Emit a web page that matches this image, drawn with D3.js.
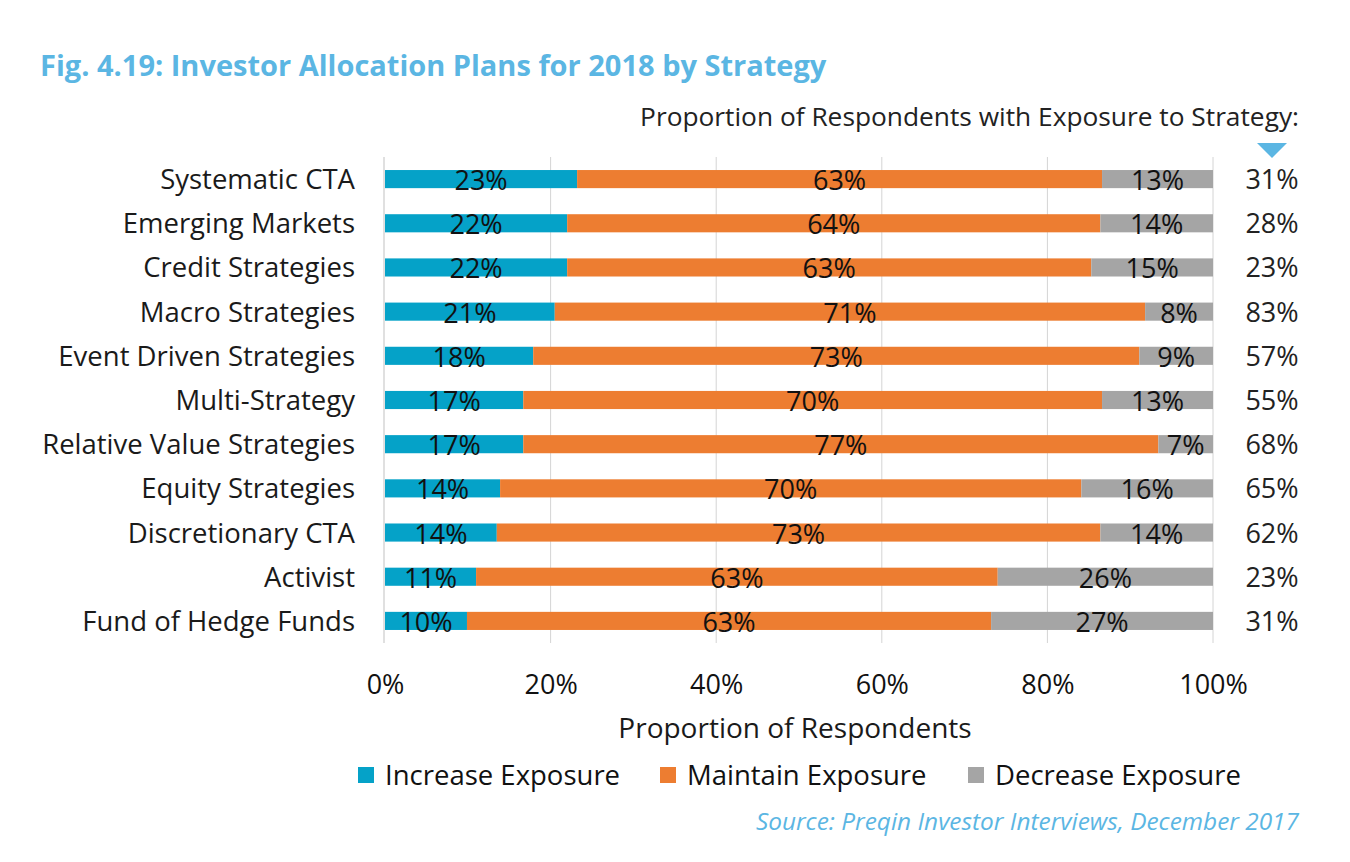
<!DOCTYPE html>
<html>
<head>
<meta charset="utf-8">
<script src="https://cdn.jsdelivr.net/npm/d3@7"></script>
<style>
  body { margin: 0; background: #fff; }
  svg text { font-family: "Open Sans", sans-serif; }
</style>
</head>
<body>
<svg id="chart" width="1350" height="862"></svg>
<script>
// datos
const categorias = ["Systematic CTA", "Emerging Markets", "Credit Strategies", "Macro Strategies",
  "Event Driven Strategies", "Multi-Strategy", "Relative Value Strategies", "Equity Strategies",
  "Discretionary CTA", "Activist", "Fund of Hedge Funds"];
const aumentar = [23.2, 22.0, 22.0, 20.5, 17.9, 16.7, 16.7, 13.9, 13.5, 11.0, 9.9];
const mantener = [63.4, 64.4, 63.3, 71.3, 73.2, 69.9, 76.7, 70.2, 72.9, 63.0, 63.3];
const reducir = [13.4, 13.6, 14.7, 8.2, 8.9, 13.4, 6.6, 15.9, 13.6, 26.0, 26.8];
const etiquetasAumentar = ["23%", "22%", "22%", "21%", "18%", "17%", "17%", "14%", "14%", "11%", "10%"];
const etiquetasMantener = ["63%", "64%", "63%", "71%", "73%", "70%", "77%", "70%", "73%", "63%", "63%"];
const etiquetasReducir = ["13%", "14%", "15%", "8%", "9%", "13%", "7%", "16%", "14%", "26%", "27%"];
const exposicion = ["31%", "28%", "23%", "83%", "57%", "55%", "68%", "65%", "62%", "23%", "31%"];
const series = ["Increase Exposure", "Maintain Exposure", "Decrease Exposure"];
const colores = ["#05A2C8", "#ED7D31", "#A5A5A5"];
const ticksX = [0, 20, 40, 60, 80, 100];

const azul = "#5BB6E3";
const tam = 27;
const svg = d3.select("#chart");

const x = d3.scaleLinear().domain([0, 100]).range([385, 1213]);
const y = d3.scaleBand().domain(categorias).range([157, 643]).paddingInner(0.59).paddingOuter(0.295);

// titulo
svg.append("text")
  .attr("x", 40).attr("y", 76)
  .attr("fill", azul).attr("font-size", 29).attr("font-weight", "bold")
  .text("Fig. 4.19: Investor Allocation Plans for 2018 by Strategy");

svg.append("text")
  .attr("x", 1299).attr("y", 126)
  .attr("text-anchor", "end").attr("font-size", 26.3).attr("fill", "#222")
  .text("Proportion of Respondents with Exposure to Strategy:");

// triangulo
svg.append("path")
  .attr("d", "M1257,143 L1287,143 L1272,158 Z")
  .attr("fill", azul);

// rejilla
svg.append("g").selectAll("line")
  .data(ticksX.slice(1))
  .join("line")
  .attr("x1", d => x(d)).attr("x2", d => x(d))
  .attr("y1", 157).attr("y2", 643)
  .attr("stroke", "#d4d4d4").attr("stroke-width", 1);

svg.append("line")
  .attr("x1", x(0) - 1).attr("x2", x(0) - 1)
  .attr("y1", 157).attr("y2", 643)
  .attr("stroke", "#e0e0e0").attr("stroke-width", 2);

// barras apiladas
const filas = categorias.map((c, i) => ({
  cat: c,
  vals: [aumentar[i], mantener[i], reducir[i]],
  etiq: [etiquetasAumentar[i], etiquetasMantener[i], etiquetasReducir[i]]
}));

const g = svg.append("g");
filas.forEach(f => {
  let acum = 0;
  f.vals.forEach((v, k) => {
    const x0 = acum, x1 = acum + v;
    acum = x1;
    g.append("rect")
      .attr("x", x(x0)).attr("width", x(x1) - x(x0))
      .attr("y", y(f.cat)).attr("height", y.bandwidth())
      .attr("fill", colores[k]);
    g.append("text")
      .attr("x", (x(x0) + x(x1)) / 2)
      .attr("y", y(f.cat) + y.bandwidth() / 2 + 11)
      .attr("text-anchor", "middle").attr("font-size", tam).attr("fill", "#111")
      .text(f.etiq[k]);
  });
});

// eje y
svg.append("g").selectAll("text")
  .data(categorias)
  .join("text")
  .attr("x", 355)
  .attr("y", d => y(d) + y.bandwidth() / 2 + 10)
  .attr("text-anchor", "end").attr("font-size", 27.5).attr("fill", "#1a1a1a")
  .text(d => d);

// columna de exposicion
svg.append("g").selectAll("text")
  .data(categorias)
  .join("text")
  .attr("x", 1272)
  .attr("y", d => y(d) + y.bandwidth() / 2 + 10)
  .attr("text-anchor", "middle").attr("font-size", tam).attr("fill", "#222")
  .text((d, i) => exposicion[i]);

// eje x
const ejeX = svg.append("g")
  .attr("transform", "translate(0,643)")
  .call(d3.axisBottom(x).tickValues(ticksX).tickFormat(d => d + "%").tickSize(0).tickPadding(32));
ejeX.select(".domain").remove();
ejeX.selectAll("text")
  .attr("font-size", tam).attr("fill", "#111")
  .style("font-family", "'Open Sans', sans-serif");

svg.append("text")
  .attr("x", 795).attr("y", 738)
  .attr("text-anchor", "middle").attr("font-size", 28).attr("fill", "#1a1a1a")
  .text("Proportion of Respondents");

// leyenda
const posLeyenda = [358, 660, 968];
const ley = svg.append("g").selectAll("g")
  .data(series)
  .join("g")
  .attr("transform", (d, i) => `translate(${posLeyenda[i]},767)`);
ley.append("rect")
  .attr("width", 16).attr("height", 16)
  .attr("fill", (d, i) => colores[i]);
ley.append("text")
  .attr("x", 27).attr("y", 18)
  .attr("font-size", 27.5).attr("fill", "#111")
  .text(d => d);

// fuente
svg.append("text")
  .attr("x", 1299).attr("y", 830)
  .attr("text-anchor", "end").attr("font-size", 24.4).attr("font-style", "italic")
  .attr("fill", azul)
  .text("Source: Preqin Investor Interviews, December 2017");
</script>
</body>
</html>
